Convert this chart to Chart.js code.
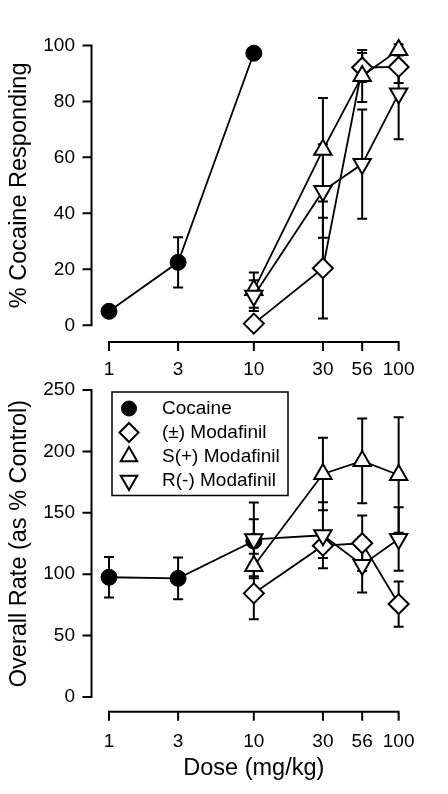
<!DOCTYPE html>
<html><head><meta charset="utf-8">
<script src="https://cdn.jsdelivr.net/npm/chart.js@4"></script>
<style>
html,body{margin:0;padding:0;background:#fff;}
#wrap{position:relative;width:448px;height:794px;overflow:hidden;}
canvas{position:absolute;left:0;top:0;}
</style></head><body>
<div id="wrap"><canvas id="topChart" width="448" height="794"></canvas><canvas id="botChart" width="448" height="794"></canvas></div>
<script>
// ---- data ----
const doseTicks = [1, 3, 10, 30, 56, 100];
const cocaineDoses = [1, 3, 10];
const modafinilDoses = [10, 30, 56, 100];
const seriesNames = ['Cocaine', '(±) Modafinil', 'S(+) Modafinil', 'R(-) Modafinil'];
const respTicks = [0, 20, 40, 60, 80, 100];
const rateTicks = [0, 50, 100, 150, 200, 250];

// % cocaine responding (mean, SEM)
const cocaineResp = [5.0, 22.5, 97.2];
const cocaineRespErr = [0, 9, 0];
const racResp = [0.6, 20.4, 92.1, 92.3];
const racRespErr = [0, 18, 5.2, 5.7];
const sResp = [12.6, 62.7, 89.1, 98.4];
const sRespErr = [6.3, 18.5, 9.3, 2];
const rResp = [10.6, 48.0, 57.6, 82.8];
const rRespErr = [5.5, 16.7, 19.5, 16.3];

// overall rate (as % control)
const cocaineRate = [97.5, 96.6, 127];
const cocaineRateErr = [16.5, 17, 17.7];
const racRate = [84.4, 123.2, 125.2, 75.7];
const racRateErr = [21, 10, 22.5, 18.4];
const sRate = [106.7, 181.6, 192.2, 180.8];
const sRateErr = [10, 29.6, 34.5, 47];
const rRate = [128.4, 131.7, 107.5, 128.7];
const rRateErr = [30, 26.8, 22.5, 25.8];

// ---- styles ----
const FAM = '"Liberation Sans", Arial, Helvetica, sans-serif';
const tickFont = {family: FAM, size: 19};
const titleFont = {family: FAM, size: 23.5};
const legendFont = '19px ' + FAM;

const styles = [
  {pointStyle: 'circle', pointRadius: 8, pointBackgroundColor: '#000', pointBorderWidth: 1, pointRotation: 0, order: 4},
  {pointStyle: 'rectRot', pointRadius: 10, pointBackgroundColor: '#fff', pointBorderWidth: 2, pointRotation: 0, order: 3},
  {pointStyle: 'triangle', pointRadius: 10, pointBackgroundColor: '#fff', pointBorderWidth: 2, pointRotation: 0, order: 2},
  {pointStyle: 'triangle', pointRadius: 10, pointBackgroundColor: '#fff', pointBorderWidth: 2, pointRotation: 180, order: 1}
];

function mk(idx, doses, vals, errs) {
  return Object.assign({
    label: seriesNames[idx],
    data: doses.map((d, i) => ({x: d, y: vals[i]})),
    errors: errs,
    borderColor: '#000',
    borderWidth: 1.8,
    pointBorderColor: '#000',
    pointHoverRadius: 10,
    clip: false,
    tension: 0
  }, styles[idx]);
}

const errorBars = {
  id: 'errorBars',
  beforeDatasetsDraw(chart) {
    const {ctx} = chart; const x = chart.scales.x, y = chart.scales.y;
    ctx.save(); ctx.strokeStyle = '#000'; ctx.lineWidth = 2;
    chart.data.datasets.forEach(ds => {
      ds.data.forEach((p, i) => {
        const e = ds.errors[i]; if (!e) return;
        const px = x.getPixelForValue(p.x);
        const y1 = y.getPixelForValue(p.y + e), y2 = y.getPixelForValue(p.y - e);
        ctx.beginPath();
        ctx.moveTo(px, y1); ctx.lineTo(px, y2);
        ctx.moveTo(px - 5, y1); ctx.lineTo(px + 5, y1);
        ctx.moveTo(px - 5, y2); ctx.lineTo(px + 5, y2);
        ctx.stroke();
      });
    });
    ctx.restore();
  }
};

const offsetAxes = {
  id: 'offsetAxes',
  afterDraw(chart, args, opts) {
    const {ctx, chartArea} = chart; const x = chart.scales.x, y = chart.scales.y;
    const ax = chartArea.left - opts.yGap, ay = chartArea.bottom + opts.xGap;
    ctx.save(); ctx.strokeStyle = '#000'; ctx.lineWidth = 2; ctx.lineCap = 'square';
    ctx.beginPath();
    ctx.moveTo(ax, y.getPixelForValue(y.min)); ctx.lineTo(ax, y.getPixelForValue(y.max));
    y.ticks.forEach(t => { const py = y.getPixelForValue(t.value); ctx.moveTo(ax - 8, py); ctx.lineTo(ax, py); });
    ctx.moveTo(x.getPixelForValue(x.min), ay); ctx.lineTo(x.getPixelForValue(x.max), ay);
    x.ticks.forEach(t => { const px = x.getPixelForValue(t.value); ctx.moveTo(px, ay); ctx.lineTo(px, ay + 8); });
    ctx.stroke(); ctx.restore();
  }
};

const boxLegend = {
  id: 'boxLegend',
  afterDraw(chart, args, opts) {
    if (!opts.show) return;
    const {ctx, chartArea} = chart;
    const L = chartArea.left + 3, T = chartArea.top + 2;
    ctx.save();
    ctx.strokeStyle = '#000'; ctx.lineWidth = 1.5;
    ctx.strokeRect(L, T, 176, 103.5);
    chart.data.datasets.forEach((ds, i) => {
      const cy = T + 16.5 + 24 * i, cx = L + 17;
      ctx.fillStyle = ds.pointBackgroundColor; ctx.strokeStyle = '#000';
      ctx.lineWidth = ds.pointBorderWidth;
      Chart.helpers.drawPoint(ctx, {pointStyle: ds.pointStyle, radius: ds.pointRadius - 0.5, rotation: ds.pointRotation, borderWidth: ds.pointBorderWidth}, cx, cy);
      ctx.fillStyle = '#000'; ctx.font = legendFont; ctx.textBaseline = 'middle'; ctx.textAlign = 'left';
      ctx.fillText(ds.label, L + 50, cy);
    });
    ctx.restore();
  }
};

function scalesFor(yTicks, yTitle, xTitle, xH) {
  return {
    x: {
      type: 'logarithmic', min: doseTicks[0], max: doseTicks[doseTicks.length - 1],
      grid: {display: false, drawTicks: false}, border: {display: false},
      afterBuildTicks: s => { s.ticks = doseTicks.map(v => ({value: v})); },
      ticks: {padding: 33.5, maxRotation: 0, minRotation: 0, autoSkip: false, font: tickFont, color: '#000', callback: v => String(v)},
      title: xTitle ? {display: true, text: xTitle, font: titleFont, color: '#000', padding: {top: 0, bottom: 11}} : {display: false},
      afterFit: s => { s.height = xH; }
    },
    y: {
      type: 'linear', min: yTicks[0], max: yTicks[yTicks.length - 1],
      grid: {display: false, drawTicks: false}, border: {display: false},
      afterBuildTicks: s => { s.ticks = yTicks.map(v => ({value: v})); },
      ticks: {padding: 34, font: tickFont, color: '#000'},
      title: {display: true, text: yTitle, font: titleFont, color: '#000', padding: {top: 5, bottom: 0}},
      afterFit: s => { s.width = 109; }
    }
  };
}

function makeChart(id, datasets, yTicks, yTitle, xTitle, xH, pad, xGap, showLegend) {
  return new Chart(document.getElementById(id), {
    type: 'line',
    data: {datasets},
    options: {
      responsive: false, animation: false, devicePixelRatio: 1,
      layout: {padding: pad},
      scales: scalesFor(yTicks, yTitle, xTitle, xH),
      plugins: {
        legend: {display: false}, tooltip: {enabled: false},
        offsetAxes: {xGap: xGap, yGap: 17.5},
        boxLegend: {show: showLegend}
      }
    },
    plugins: [errorBars, offsetAxes, boxLegend]
  });
}

makeChart('topChart', [
  mk(0, cocaineDoses, cocaineResp, cocaineRespErr),
  mk(1, modafinilDoses, racResp, racRespErr),
  mk(2, modafinilDoses, sResp, sRespErr),
  mk(3, modafinilDoses, rResp, rRespErr)
], respTicks, '% Cocaine Responding', null, 60, {left: 0, right: 23, top: 19, bottom: 408.7}, 16.7, false);

makeChart('botChart', [
  mk(0, cocaineDoses, cocaineRate, cocaineRateErr),
  mk(1, modafinilDoses, racRate, racRateErr),
  mk(2, modafinilDoses, sRate, sRateErr),
  mk(3, modafinilDoses, rRate, rRateErr)
], rateTicks, 'Overall Rate (as % Control)', 'Dose (mg/kg)', 97, {left: 0, right: 23, top: 390, bottom: 0}, 14.7, true);
</script>
</body></html>
